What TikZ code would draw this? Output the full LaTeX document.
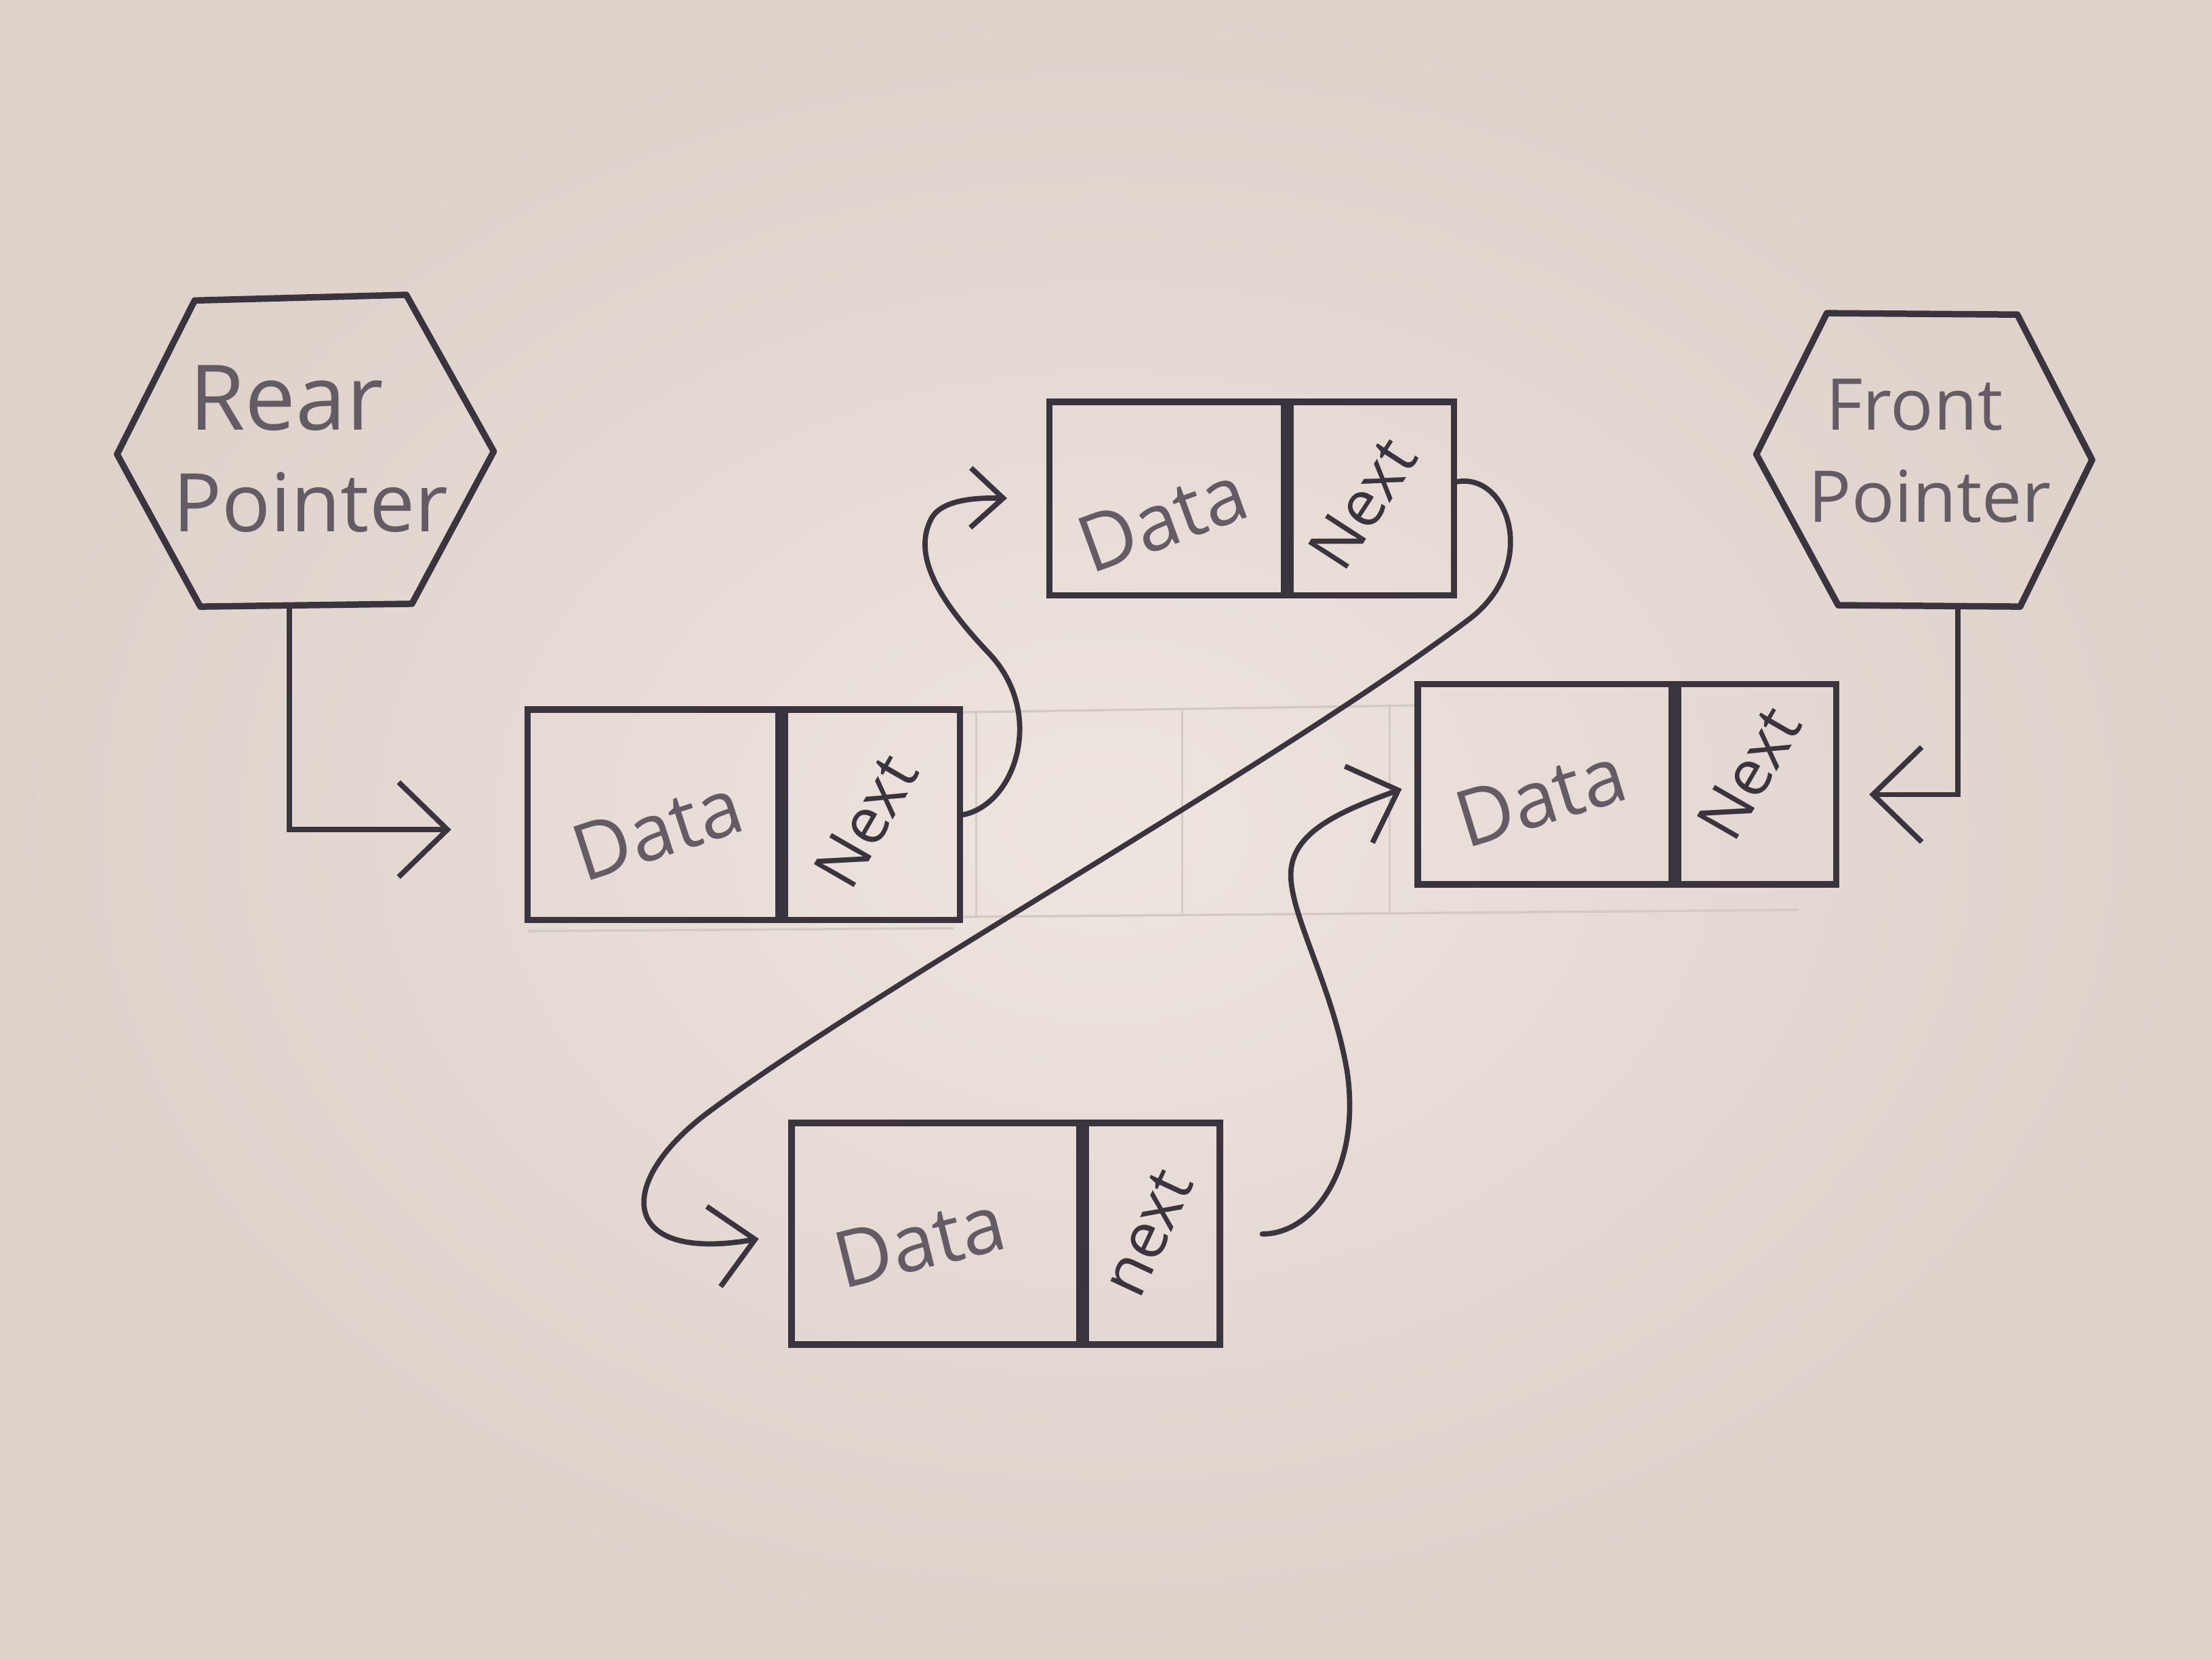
\documentclass[tikz,border=0pt]{standalone}
\usepackage{fontspec}
\setmainfont{Open Sans}
\usetikzlibrary{arrows.meta,calc}
\definecolor{paperlt}{RGB}{238,229,222}
\definecolor{paperdk}{RGB}{222,210,203}
\definecolor{ink}{RGB}{58,52,62}
\definecolor{pencil}{RGB}{100,92,100}
\definecolor{faint}{RGB}{212,202,197}
\begin{document}
\begin{tikzpicture}[x=0.020816cm,y=-0.020816cm,
  box/.style={draw=ink,line width=2.7pt,inner sep=0pt},
  hex/.style={draw=ink,line width=2.7pt,line join=round},
  link/.style={draw=ink,line width=2.2pt,line cap=round},
  lbl/.style={text=pencil,font=\fontsize{38}{40}\selectfont,inner sep=0pt},
  lblp/.style={text=pencil,font=\fontsize{34}{36}\selectfont,inner sep=0pt},
  lbls/.style={text=pencil,font=\fontsize{30}{34}\selectfont,inner sep=0pt},
  datatxt/.style={text=pencil,font=\fontsize{33}{36}\selectfont,inner sep=0pt},
  nexttxt/.style={text=ink,font=\fontsize{27}{30}\selectfont,inner sep=0pt},
  barbL/.style={-{Straight Barb[length=0.72cm,width=1.4cm]}},
  barbM/.style={-{Straight Barb[length=0.62cm,width=1.2cm]}},
  barbS/.style={-{Straight Barb[length=0.48cm,width=0.88cm]}},
  faintline/.style={draw=faint,line width=1pt}]
\useasboundingbox (0,0) rectangle (1568,1176);
\shade[inner color=paperlt,outer color=paperdk] (0,0) rectangle (1568,1176);

% faint erased pencil boxes
\draw[faintline] (676,505) -- (1005,500);
\draw[faintline] (676,650) -- (1275,645);
\draw[faintline] (374,660) -- (676,658);
\draw[faintline] (692,505) -- (692,650);
\draw[faintline] (838,503) -- (838,648);
\draw[faintline] (985,500) -- (985,647);

% Rear pointer hexagon
\draw[hex] (83,322) -- (138,213) -- (288,209) -- (350,320) -- (292,428) -- (142,430) -- cycle;
\node[lbl] (rearA) at (203,282) {Rear};
\node[lblp] (rearB) at (220,356) {Pointer};
\coordinate (rearb) at (205,430);

% Front pointer hexagon
\draw[hex] (1245,322) -- (1295,222) -- (1430,223) -- (1483,326) -- (1432,430) -- (1303,429) -- cycle;
\node[lbls] (frontA) at (1357,287) {Front};
\node[lbls] (frontB) at (1368,352) {Pointer};
\coordinate (frontb) at (1388,432);

% list nodes
\node[box,minimum width=3.705cm,minimum height=3.102cm] (n1d) at (463,577.5) {};
\node[box,minimum width=2.581cm,minimum height=3.102cm,anchor=west] (n1n) at (n1d.east) {};
\node[box,minimum width=3.455cm,minimum height=2.852cm] (n2d) at (827,353.5) {};
\node[box,minimum width=2.415cm,minimum height=2.852cm,anchor=west] (n2n) at (n2d.east) {};
\node[box,minimum width=3.747cm,minimum height=2.956cm] (n3d) at (1095,556) {};
\node[box,minimum width=2.331cm,minimum height=2.956cm,anchor=west] (n3n) at (n3d.east) {};
\node[box,minimum width=4.246cm,minimum height=3.268cm] (n4d) at (663,874.5) {};
\node[box,minimum width=1.978cm,minimum height=3.268cm,anchor=west] (n4n) at (n4d.east) {};

% labels
\node[datatxt,rotate=18] (t1d) at (466,588) {Data};
\node[nexttxt,rotate=60] (t1n) at (614,582) {Next};
\node[datatxt,rotate=20] (t2d) at (824,368) {Data};
\node[nexttxt,rotate=57] (t2n) at (966,357) {Next};
\node[datatxt,rotate=17] (t3d) at (1092,565) {Data};
\node[nexttxt,rotate=60] (t3n) at (1240,548) {Next};
\node[datatxt,rotate=14] (t4d) at (652,880) {Data};
\node[nexttxt,rotate=65] (t4n) at (814,874) {next};

% pointer connectors
\draw[link,barbL,shorten >=1.08cm] (rearb) |- ([yshift=-0.22cm]n1d.west);
\draw[link,barbL,shorten >=0.44cm] (frontb) |- ([yshift=-0.15cm]n3n.east);

% next connectors
\draw[link,barbS,shorten >=0.58cm] (n1n.east) .. controls (720,570) and (742,505) .. (700,462)
  .. controls (668,428) and (646,395) .. (660,368)
  .. controls (668,352) and (700,353) .. (n2d.west);
\draw[link,barbM,shorten >=0.44cm] ([yshift=0.25cm]n2n.east) .. controls (1070,335) and (1092,402) .. (1040,440)
  .. controls (900,545) and (620,700) .. (500,790)
  .. controls (435,840) and (440,895) .. (n4d.west);
\draw[link,barbM,shorten <=0.58cm,shorten >=0.2cm] (n4n.east) .. controls (930,875) and (965,830) .. (955,760)
  .. controls (945,700) and (915,650) .. (915,620)
  .. controls (915,590) and (950,575) .. (n3d.west);
\end{tikzpicture}
\end{document}
